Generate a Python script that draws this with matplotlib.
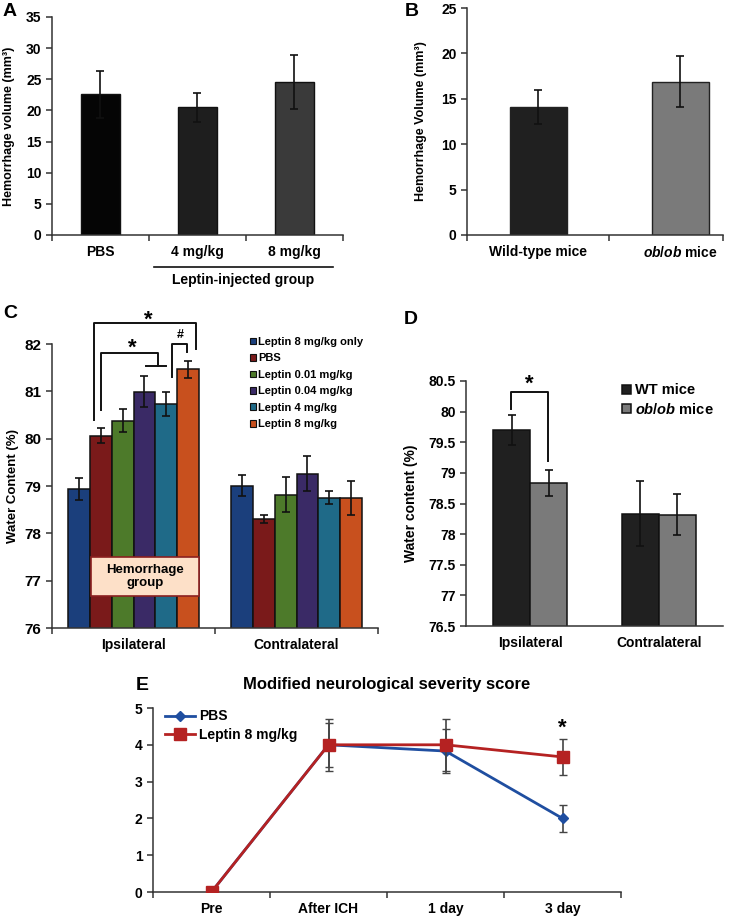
import matplotlib
matplotlib.use("Agg")
import matplotlib.pyplot as plt
from matplotlib.patches import Rectangle, Patch
from matplotlib.lines import Line2D
from matplotlib.ticker import FormatStrFormatter

plt.rcParams['font.family'] = ['Liberation Sans', 'DejaVu Sans']
plt.rcParams['font.weight'] = 'bold'
plt.rcParams['mathtext.fontset'] = 'custom'
plt.rcParams['mathtext.it'] = 'Liberation Sans:bold:italic'
plt.rcParams['mathtext.rm'] = 'Liberation Sans:bold'
plt.rcParams['mathtext.bf'] = 'Liberation Sans:bold'
plt.rcParams['axes.linewidth'] = 1.1
plt.rcParams['axes.edgecolor'] = '#333333'

# ---- data ----
a_groups = ["PBS", "4 mg/kg", "8 mg/kg"]
a_means = [22.6, 20.5, 24.6]
a_errs = [3.8, 2.3, 4.35]
a_colors = ["#050505", "#1e1e1e", "#3a3a3a"]

b_groups = ["Wild-type mice", r"$ob/ob$ mice"]
b_means = [14.1, 16.9]
b_errs = [1.85, 2.8]
b_colors = ["#202020", "#7a7a7a"]

c_sides = ["Ipsilateral", "Contralateral"]
c_series = ["Leptin 8 mg/kg only", "PBS", "Leptin 0.01 mg/kg",
            "Leptin 0.04 mg/kg", "Leptin 4 mg/kg", "Leptin 8 mg/kg"]
c_ipsi = [78.93, 80.06, 80.38, 80.99, 80.73, 81.47]
c_ipsi_err = [0.23, 0.16, 0.24, 0.33, 0.25, 0.18]
c_contra = [79.01, 78.30, 78.82, 79.26, 78.75, 78.74]
c_contra_err = [0.23, 0.08, 0.37, 0.37, 0.14, 0.36]
c_colors = ["#1b3f7c", "#7a1a1a", "#4d7a2a", "#3a2a66", "#1f6a88", "#c8501e"]

d_sides = ["Ipsilateral", "Contralateral"]
d_series = ["WT mice", r"$ob/ob$ mice"]
d_wt = [79.70, 78.33]
d_wt_err = [0.25, 0.53]
d_ob = [78.83, 78.32]
d_ob_err = [0.21, 0.34]
d_colors = ["#202020", "#7a7a7a"]

e_times = ["Pre", "After ICH", "1 day", "3 day"]
e_pbs = [0, 4.0, 3.83, 2.0]
e_pbs_err = [0, 0.6, 0.6, 0.36]
e_lep = [0, 4.0, 4.0, 3.67]
e_lep_err = [0, 0.7, 0.7, 0.5]

W, H = 754, 917
fig = plt.figure(figsize=(W / 100, H / 100), dpi=100)


def px_axes(l, t, r, b):
    return fig.add_axes([l / W, 1 - b / H, (r - l) / W, (b - t) / H])


def style(ax, fs=10):
    for s in ("top", "right"):
        ax.spines[s].set_visible(False)
    ax.tick_params(axis="both", direction="out", length=4, width=1.1,
                   labelsize=fs, color="#333333")
    ax.tick_params(axis="x", which="minor", length=0, pad=7)


def cat_ticks(ax, edges, centers, labels, fs=10):
    ax.set_xticks(edges)
    ax.set_xticklabels([])
    ax.set_xticks(centers, minor=True)
    ax.set_xticklabels(labels, minor=True, fontsize=fs, fontweight="bold")


def fig_label(x, y, s, fs=14):
    fig.text(x / W, 1 - y / H, s, fontsize=fs, fontweight="bold",
             ha="center", va="center")


ekw = dict(ecolor="#111111", elinewidth=1.2, capsize=3, capthick=1.2)

# ---- A ----
ax = px_axes(52, 17, 343, 235)
xa = list(range(len(a_groups)))
ax.bar(xa, a_means, width=0.4, color=a_colors, edgecolor="#111111",
       linewidth=1, yerr=a_errs, error_kw=ekw)
ax.set_xlim(-0.5, 2.5)
ax.set_ylim(0, 35)
ax.set_yticks(range(0, 36, 5))
style(ax)
cat_ticks(ax, [-0.5, 0.5, 1.5, 2.5], xa, a_groups)
ax.set_ylabel("Hemorrhage volume (mm³)", fontsize=9, fontweight="bold")
ax.yaxis.set_label_coords(-0.128, 0.5)
fig.add_artist(Line2D([154 / W, 333 / W], [1 - 267 / H, 1 - 267 / H],
                      transform=fig.transFigure, color="#111111", lw=1.2))
fig.text(243 / W, 1 - 280 / H, "Leptin-injected group", fontsize=10,
         fontweight="bold", ha="center", va="center")
fig_label(10, 12, "A")

# ---- B ----
ax = px_axes(467, 8, 723, 235)
xb = list(range(len(b_groups)))
ax.bar(xb, b_means, width=0.4, color=b_colors, edgecolor="#222222",
       linewidth=1, yerr=b_errs, error_kw=ekw)
ax.set_xlim(-0.5, 1.3)
ax.set_ylim(0, 25)
ax.set_yticks(range(0, 26, 5))
style(ax)
cat_ticks(ax, [-0.5, 0.5, 1.3], xb, b_groups)
ax.set_ylabel("Hemorrhage Volume (mm³)", fontsize=9, fontweight="bold")
ax.yaxis.set_label_coords(-0.158, 0.5)
fig_label(412, 12, "B")

# ---- C ----
ax = px_axes(52, 344, 378, 628)
w = 0.134
for i, name in enumerate(c_series):
    xs = [0.5 + (i - 2.5) * w, 1.5 + (i - 2.5) * w]
    ax.bar(xs, [c_ipsi[i], c_contra[i]], width=w, color=c_colors[i],
           edgecolor="#111111", linewidth=1.1,
           yerr=[c_ipsi_err[i], c_contra_err[i]], error_kw=ekw, label=name)
ax.set_xlim(0, 2)
ax.set_ylim(76, 82)
ax.set_yticks(range(76, 83))
style(ax, fs=11)
cat_ticks(ax, [0, 1, 2], [0.5, 1.5], c_sides)
ax.set_ylabel("Water Content (%)", fontsize=9.5, fontweight="bold")
ax.yaxis.set_label_coords(-0.1, 0.5)
bk = dict(color="#111111", lw=1.4, clip_on=False)
ax.plot([0.26, 0.26, 0.882, 0.882], [80.4, 82.45, 82.45, 81.9], **bk)
ax.plot([0.30, 0.30, 0.652, 0.652], [80.61, 81.81, 81.81, 81.54], **bk)
ax.plot([0.577, 0.699], [81.54, 81.54], **bk)
ax.plot([0.738, 0.738, 0.826, 0.826], [81.31, 82.0, 82.0, 81.83], **bk)
ax.text(0.589, 82.5, "*", fontsize=16, ha="center", va="center")
ax.text(0.495, 81.92, "*", fontsize=16, ha="center", va="center")
ax.text(0.785, 82.19, "#", fontsize=9, ha="center", va="center")
ax.add_patch(Rectangle((0.239, 76.68), 0.663, 0.82, facecolor="#fde0c8",
                       edgecolor="#8b2020", lw=1.2, zorder=5))
ax.text(0.571, 77.09, "Hemorrhage\ngroup", fontsize=9.5, ha="center",
        va="center", zorder=6, linespacing=1.15)
handles = [Patch(facecolor=c, edgecolor="#111111", lw=0.8) for c in c_colors]
fig.legend(handles, c_series, loc="upper left",
           bbox_to_anchor=(250 / W, 1 - 337 / H), frameon=False,
           fontsize=8, handlelength=0.55, handleheight=0.55,
           handletextpad=0.2, labelspacing=0.58, borderpad=0,
           borderaxespad=0)
fig_label(10, 314, "C")

# ---- D ----
ax = px_axes(466, 381, 723, 626)
wd = 0.288
ax.bar([0.5 - wd / 2, 1.5 - wd / 2], d_wt, width=wd, color=d_colors[0],
       edgecolor="#111111", linewidth=1.1, yerr=d_wt_err, error_kw=ekw,
       label=d_series[0])
ax.bar([0.5 + wd / 2, 1.5 + wd / 2], d_ob, width=wd, color=d_colors[1],
       edgecolor="#111111", linewidth=1.1, yerr=d_ob_err, error_kw=ekw,
       label=d_series[1])
ax.set_xlim(0, 2)
ax.set_ylim(76.5, 80.5)
ax.set_yticks([76.5 + 0.5 * k for k in range(9)])
ax.yaxis.set_major_formatter(FormatStrFormatter("%g"))
style(ax)
ax.tick_params(axis="x", which="major", length=0)
ax.set_xticks([0.5, 1.5], minor=True)
ax.set_xticklabels(d_sides, minor=True, fontsize=10, fontweight="bold")
ax.set_xticks([])
ax.set_ylabel("Water content (%)", fontsize=10, fontweight="bold")
ax.yaxis.set_label_coords(-0.187, 0.5)
ax.plot([0.35, 0.35, 0.64, 0.64], [80.05, 80.32, 80.32, 79.2], **bk)
ax.text(0.49, 80.44, "*", fontsize=16, ha="center", va="center")
ax.legend(loc="upper left", bbox_to_anchor=(0.58, 1.02), frameon=False,
          fontsize=10.5, handlelength=0.6, handleheight=0.6,
          handletextpad=0.3, labelspacing=0.3, borderpad=0)
fig_label(411, 319, "D")

# ---- E ----
ax = px_axes(153, 708, 621, 892)
xe = list(range(len(e_times)))
ax.errorbar(xe, e_pbs, yerr=e_pbs_err, color="#1f4ea0", lw=2, marker="D",
            ms=5, ecolor="#444444", elinewidth=1.2, capsize=3, zorder=3)
ax.errorbar(xe, e_lep, yerr=e_lep_err, color="#b52222", lw=2, marker="s",
            ms=8, ecolor="#444444", elinewidth=1.2, capsize=3, zorder=4)
ax.set_xlim(-0.5, 3.5)
ax.set_ylim(0, 5)
style(ax)
cat_ticks(ax, [-0.5, 0.5, 1.5, 2.5, 3.5], xe, e_times)
ax.text(3, 4.45, "*", fontsize=16, ha="center", va="center")
ax.set_title("Modified neurological severity score", fontsize=12,
             fontweight="bold", pad=14)
e_handles = [Line2D([], [], color="#1f4ea0", lw=2, marker="D", ms=5),
             Line2D([], [], color="#b52222", lw=2, marker="s", ms=8)]
ax.legend(e_handles, ["PBS", "Leptin 8 mg/kg"], loc="upper left",
          bbox_to_anchor=(0.01, 1.03), frameon=False,
          fontsize=10, handlelength=2.2, handletextpad=0.3,
          labelspacing=0.3, borderpad=0)
fig_label(142, 685, "E")

fig.savefig("out.png", dpi=100)
